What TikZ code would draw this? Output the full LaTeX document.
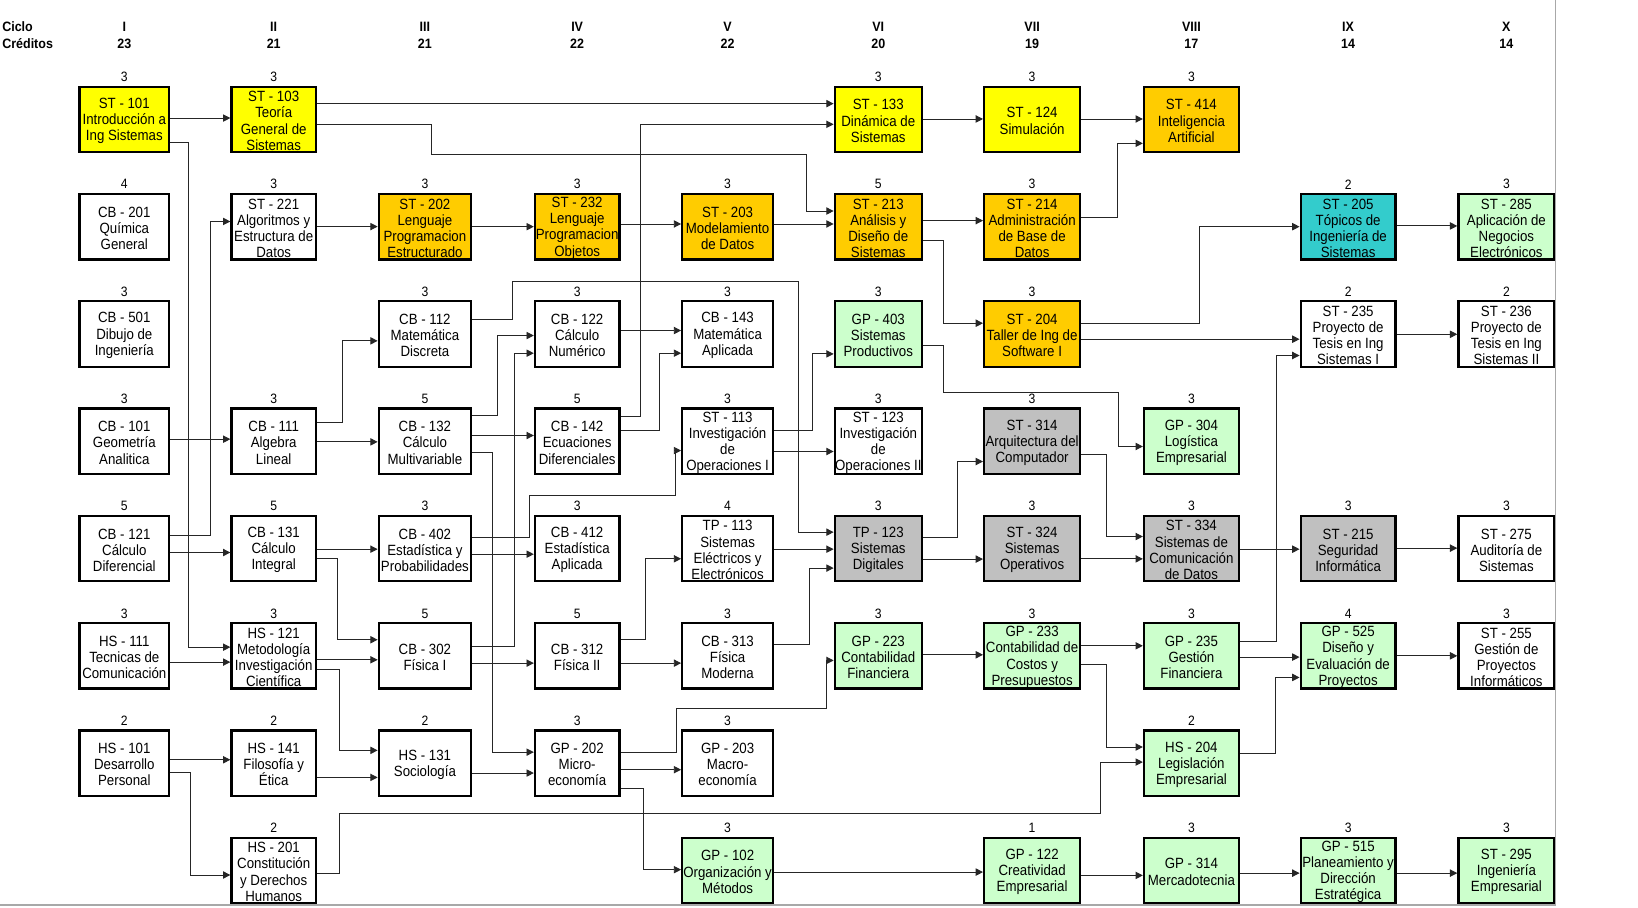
\documentclass[tikz,border=0pt]{standalone}
\usepackage{fontspec}
\setmainfont{Liberation Sans}[FakeStretch=0.895]
\newfontfamily\hdfont{Liberation Sans}[FakeStretch=0.92]
\usetikzlibrary{arrows.meta}
\definecolor{yel}{HTML}{FFFF00}
\definecolor{org}{HTML}{FFCC00}
\definecolor{grn}{HTML}{CCFFCC}
\definecolor{cyn}{HTML}{33CCCC}
\definecolor{gry}{HTML}{C0C0C0}
\definecolor{frame}{HTML}{A8A8A8}
\newcommand\crs[6]{%
 \pgfmathtruncatemacro\ci{#2-1}%
 \pgfmathsetmacro\cx{{119,262,406.75,552.5,696.5,840.75,988,1140.5,1290.5,1442}[\ci]}%
 \pgfmathsetmacro\cw{{88,83,90.5,83,89,85.5,94,93,93,94}[\ci]-2.2}%
 \pgfmathsetmacro\ct{82+102.7*(#3-1)}%
 \node[box,fill=#4,minimum width=\cw pt] (#1) at (\cx,\ct+32.3) {};%
 \node[btext] (#1t) at (\cx,\ct+33.8) {#6};%
 \node[cred] (#1c) at (\cx,\ct-8.3) {#5};%
}
\begin{document}
\begin{tikzpicture}[x=1pt,y=-1pt,
 box/.style={draw=black,line width=2.2pt,inner sep=0pt,minimum height=62.6pt},
 btext/.style={inner sep=0pt,align=center,font=\fontsize{14.2}{15.5}\selectfont},
 cred/.style={inner sep=0pt,font=\fontsize{13}{14}\selectfont},
 hd/.style={inner sep=0pt,font=\hdfont\bfseries\fontsize{13}{14}\selectfont},
 conn/.style={draw=black!85,line width=0.9pt,-{Triangle[length=7pt,width=7pt]}},
]
\useasboundingbox (0,0) rectangle (1568,869);
\fill[white] (0,0) rectangle (1568,869);
% frame lines
\draw[frame,line width=1.6pt] (1489,0) -- (1489,866) -- (0,866);
% headers
\node[hd,anchor=west] (hc) at (2,25.5) {Ciclo};
\node[hd,anchor=west] (hk) at (2,41.5) {Créditos};
\foreach \x/\r/\k [count=\i] in {119/I/23,262/II/21,406.75/III/21,552.5/IV/22,696.5/V/22,840.75/VI/20,988/VII/19,1140.5/VIII/17,1290.5/IX/14,1442/X/14}{
 \node[hd] (hr\i) at (\x,25.5) {\r};
 \node[hd] (hn\i) at (\x,41.5) {\k};
}
% row 1
\crs{st101}{1}{1}{yel}{3}{ST - 101\\Introducción a\\Ing Sistemas}
\crs{st103}{2}{1}{yel}{3}{ST - 103\\Teoría\\General de\\Sistemas}
\crs{st133}{6}{1}{yel}{3}{ST - 133\\Dinámica de\\Sistemas}
\crs{st124}{7}{1}{yel}{3}{ST - 124\\Simulación}
\crs{st414}{8}{1}{org}{3}{ST - 414\\Inteligencia\\Artificial}
% row 2
\crs{cb201}{1}{2}{white}{4}{CB - 201\\Química\\General}
\crs{st221}{2}{2}{white}{3}{ST - 221\\Algoritmos y\\Estructura de\\Datos}
\crs{st202}{3}{2}{org}{3}{ST - 202\\Lenguaje\\Programacion\\Estructurado}
\crs{st232}{4}{2}{org}{3}{ST - 232\\Lenguaje\\Programacion\\Objetos}
\crs{st203}{5}{2}{org}{3}{ST - 203\\Modelamiento\\de Datos}
\crs{st213}{6}{2}{org}{5}{ST - 213\\Análisis y\\Diseño de\\Sistemas}
\crs{st214}{7}{2}{org}{3}{ST - 214\\Administración\\de Base de\\Datos}
\crs{st205}{9}{2}{cyn}{2}{ST - 205\\Tópicos de\\Ingeniería de\\Sistemas}
\crs{st285}{10}{2}{grn}{3}{ST - 285\\Aplicación de\\Negocios\\Electrónicos}
% row 3
\crs{cb501}{1}{3}{white}{3}{CB - 501\\Dibujo de\\Ingeniería}
\crs{cb112}{3}{3}{white}{3}{CB - 112\\Matemática\\Discreta}
\crs{cb122}{4}{3}{white}{3}{CB - 122\\Cálculo\\Numérico}
\crs{cb143}{5}{3}{white}{3}{CB - 143\\Matemática\\Aplicada}
\crs{gp403}{6}{3}{grn}{3}{GP - 403\\Sistemas\\Productivos}
\crs{st204}{7}{3}{org}{3}{ST - 204\\Taller de Ing de\\Software I}
\crs{st235}{9}{3}{white}{2}{ST - 235\\Proyecto de\\Tesis en Ing\\Sistemas I}
\crs{st236}{10}{3}{white}{2}{ST - 236\\Proyecto de\\Tesis en Ing\\Sistemas II}
% row 4
\crs{cb101}{1}{4}{white}{3}{CB - 101\\Geometría\\Analitica}
\crs{cb111}{2}{4}{white}{3}{CB - 111\\Algebra\\Lineal}
\crs{cb132}{3}{4}{white}{5}{CB - 132\\Cálculo\\Multivariable}
\crs{cb142}{4}{4}{white}{5}{CB - 142\\Ecuaciones\\Diferenciales}
\crs{st113}{5}{4}{white}{3}{ST - 113\\Investigación\\de\\Operaciones I}
\crs{st123}{6}{4}{white}{3}{ST - 123\\Investigación\\de\\Operaciones II}
\crs{st314}{7}{4}{gry}{3}{ST - 314\\Arquitectura del\\Computador}
\crs{gp304}{8}{4}{grn}{3}{GP - 304\\Logística\\Empresarial}
% row 5
\crs{cb121}{1}{5}{white}{5}{CB - 121\\Cálculo\\Diferencial}
\crs{cb131}{2}{5}{white}{5}{CB - 131\\Cálculo\\Integral}
\crs{cb402}{3}{5}{white}{3}{CB - 402\\Estadística y\\Probabilidades}
\crs{cb412}{4}{5}{white}{3}{CB - 412\\Estadística\\Aplicada}
\crs{tp113}{5}{5}{white}{4}{TP - 113\\Sistemas\\Eléctricos y\\Electrónicos}
\crs{tp123}{6}{5}{gry}{3}{TP - 123\\Sistemas\\Digitales}
\crs{st324}{7}{5}{gry}{3}{ST - 324\\Sistemas\\Operativos}
\crs{st334}{8}{5}{gry}{3}{ST - 334\\Sistemas de\\Comunicación\\de Datos}
\crs{st215}{9}{5}{gry}{3}{ST - 215\\Seguridad\\Informática}
\crs{st275}{10}{5}{white}{3}{ST - 275\\Auditoría de\\Sistemas}
% row 6
\crs{hs111}{1}{6}{white}{3}{HS - 111\\Tecnicas de\\Comunicación}
\crs{hs121}{2}{6}{white}{3}{HS - 121\\Metodología\\Investigación\\Científica}
\crs{cb302}{3}{6}{white}{5}{CB - 302\\Física I}
\crs{cb312}{4}{6}{white}{5}{CB - 312\\Física II}
\crs{cb313}{5}{6}{white}{3}{CB - 313\\Física\\Moderna}
\crs{gp223}{6}{6}{grn}{3}{GP - 223\\Contabilidad\\Financiera}
\crs{gp233}{7}{6}{grn}{3}{GP - 233\\Contabilidad de\\Costos y\\Presupuestos}
\crs{gp235}{8}{6}{grn}{3}{GP - 235\\Gestión\\Financiera}
\crs{gp525}{9}{6}{grn}{4}{GP - 525\\Diseño y\\Evaluación de\\Proyectos}
\crs{st255}{10}{6}{white}{3}{ST - 255\\Gestión de\\Proyectos\\Informáticos}
% row 7
\crs{hs101}{1}{7}{white}{2}{HS - 101\\Desarrollo\\Personal}
\crs{hs141}{2}{7}{white}{2}{HS - 141\\Filosofía y\\Ética}
\crs{hs131}{3}{7}{white}{2}{HS - 131\\Sociología}
\crs{gp202}{4}{7}{white}{3}{GP - 202\\Micro-\\economía}
\crs{gp203}{5}{7}{white}{3}{GP - 203\\Macro-\\economía}
\crs{hs204}{8}{7}{grn}{2}{HS - 204\\Legislación\\Empresarial}
% row 8
\crs{hs201}{2}{8}{white}{2}{HS - 201\\Constitución\\y Derechos\\Humanos}
\crs{gp102}{5}{8}{grn}{3}{GP - 102\\Organización y\\Métodos}
\crs{gp122}{7}{8}{grn}{1}{GP - 122\\Creatividad\\Empresarial}
\crs{gp314}{8}{8}{grn}{3}{GP - 314\\Mercadotecnia}
\crs{gp515}{9}{8}{grn}{3}{GP - 515\\Planeamiento y\\Dirección\\Estratégica}
\crs{st295}{10}{8}{grn}{3}{ST - 295\\Ingeniería\\Empresarial}
% connectors
\draw[conn] (st101.east|-0,113) -- (st103.west|-0,113);
\draw[conn] (st101.east|-0,136) -| (180.5,619.5) -- (hs121.west|-0,619.5);
\draw[conn] (st103.east|-0,99.2) -- (st133.west|-0,99.2);
\draw[conn] (st103.east|-0,119) -| (413.5,147.7) -| (772.3,202) -- (st213.west|-0,202);
\draw[conn] (cb121.east|-0,512.6) -| (201.7,212) -- (st221.west|-0,212);
\draw[conn] (st221.east|-0,216.9) -- (st202.west|-0,216.9);
\draw[conn] (st202.east|-0,217) -- (st232.west|-0,217);
\draw[conn] (st232.east|-0,214.4) -- (st203.west|-0,214.4);
\draw[conn] (st203.east|-0,214.4) -- (st213.west|-0,214.4);
\draw[conn] (cb142.east|-0,398.7) -| (613.4,119) -- (st133.west|-0,119);
\draw[conn] (st133.east|-0,113.9) -- (st124.west|-0,113.9);
\draw[conn] (st213.east|-0,211.2) -- (st214.west|-0,211.2);
\draw[conn] (st213.east|-0,230.6) -| (903,309.4) -- (st204.west|-0,309.4);
\draw[conn] (cb112.east|-0,305.6) -| (490.6,269.5) -| (764.5,509.4) -- (tp123.west|-0,509.4);
\draw[conn] (st124.east|-0,113.9) -- (st414.west|-0,113.9);
\draw[conn] (st214.east|-0,208.3) -| (1070,137.2) -- (st414.west|-0,137.2);
\draw[conn] (st204.east|-0,309.4) -| (1148,217) -- (st205.west|-0,217);
\draw[conn] (st204.east|-0,324.7) -- (st235.west|-0,324.7);
\draw[conn] (st205.east|-0,216.3) -- (st285.west|-0,216.3);
\draw[conn] (gp235.east|-0,614) -| (1222,340.3) -- (st235.west|-0,340.3);
\draw[conn] (st235.east|-0,320) -- (st236.west|-0,320);
\draw[conn] (gp403.east|-0,330.8) -| (903,375.4) -| (1071,427.4) -- (gp304.west|-0,427.4);
\draw[conn] (st314.east|-0,434.7) -| (1059,513.6) -- (st334.west|-0,513.6);
\draw[conn] (st324.east|-0,535) -- (st334.west|-0,535);
\draw[conn] (st334.east|-0,525.7) -- (st215.west|-0,525.7);
\draw[conn] (st215.east|-0,524.7) -- (st275.west|-0,524.7);
\draw[conn] (cb101.east|-0,420.4) -- (cb111.west|-0,420.4);
\draw[conn] (cb111.east|-0,404.2) -| (327.4,326.3) -- (cb112.west|-0,326.3);
\draw[conn] (cb111.east|-0,423) -- (cb132.west|-0,423);
\draw[conn] (cb121.east|-0,528.9) -- (cb131.west|-0,528.9);
\draw[conn] (cb131.east|-0,525.7) -- (cb402.west|-0,525.7);
\draw[conn] (cb131.east|-0,534.3) -| (323,612.4) -- (cb302.west|-0,612.4);
\draw[conn] (cb132.east|-0,398) -| (476.2,321.2) -- (cb122.west|-0,321.2);
\draw[conn] (cb132.east|-0,416.9) -- (cb142.west|-0,416.9);
\draw[conn] (cb132.east|-0,432.8) -| (471.1,720) -- (gp202.west|-0,720);
\draw[conn] (cb302.east|-0,618.5) -| (492.5,338.1) -- (cb122.west|-0,338.1);
\draw[conn] (cb402.east|-0,514.5) -| (506.5,474.3) -| (646.6,431.3) -- (st113.west|-0,431.3);
\draw[conn] (cb402.east|-0,530.5) -- (cb412.west|-0,530.5);
\draw[conn] (cb122.east|-0,316.4) -- (cb143.west|-0,316.4);
\draw[conn] (cb142.east|-0,412.4) -| (631,338.1) -- (cb143.west|-0,338.1);
\draw[conn] (cb302.east|-0,634.8) -- (cb312.west|-0,634.8);
\draw[conn] (cb312.east|-0,612.4) -| (618.2,534.9) -- (tp113.west|-0,534.9);
\draw[conn] (cb312.east|-0,634.8) -- (cb313.west|-0,634.8);
\draw[conn] (hs131.east|-0,740) -- (gp202.west|-0,740);
\draw[conn] (gp202.east|-0,720) -| (647.5,678.6) -| (791,632.2) -- (gp223.west|-0,632.2);
\draw[conn] (gp202.east|-0,736.8) -- (gp203.west|-0,736.8);
\draw[conn] (gp202.east|-0,754.4) -| (616,832.5) -- (gp102.west|-0,832.5);
\draw[conn] (hs201.east|-0,835.7) -| (324.7,778.3) -| (1053.3,729.5) -- (hs204.west|-0,729.5);
\draw[conn] (hs111.east|-0,633.8) -- (hs121.west|-0,633.8);
\draw[conn] (hs121.east|-0,631.6) -- (cb302.west|-0,631.6);
\draw[conn] (hs121.east|-0,641.1) -| (324.7,718.3) -- (hs131.west|-0,718.3);
\draw[conn] (hs101.east|-0,727.3) -- (hs141.west|-0,727.3);
\draw[conn] (hs141.east|-0,744.2) -- (hs131.west|-0,744.2);
\draw[conn] (hs101.east|-0,739.4) -| (182.8,837.6) -- (hs201.west|-0,837.6);
\draw[conn] (st113.east|-0,412.1) -| (777.5,338.8) -- (gp403.west|-0,338.8);
\draw[conn] (st113.east|-0,432.2) -- (st123.west|-0,432.2);
\draw[conn] (tp113.east|-0,525.7) -- (tp123.west|-0,525.7);
\draw[conn] (cb313.east|-0,617.2) -| (774.8,543.8) -- (tp123.west|-0,543.8);
\draw[conn] (tp123.east|-0,514.2) -| (916.6,441.8) -- (st314.west|-0,441.8);
\draw[conn] (tp123.east|-0,535.2) -- (st324.west|-0,535.2);
\draw[conn] (gp223.east|-0,626.8) -- (gp233.west|-0,626.8);
\draw[conn] (gp102.east|-0,834.8) -- (gp122.west|-0,834.8);
\draw[conn] (gp233.east|-0,618.2) -- (gp235.west|-0,618.2);
\draw[conn] (gp233.east|-0,636.4) -| (1059.1,715.1) -- (hs204.west|-0,715.1);
\draw[conn] (gp235.east|-0,629) -- (gp525.west|-0,629);
\draw[conn] (hs204.east|-0,720.9) -| (1220.8,648.5) -- (gp525.west|-0,648.5);
\draw[conn] (gp525.east|-0,627.8) -- (st255.west|-0,627.8);
\draw[conn] (gp122.east|-0,838) -- (gp314.west|-0,838);
\draw[conn] (gp314.east|-0,835.8) -- (gp515.west|-0,835.8);
\draw[conn] (gp515.east|-0,835.8) -- (st295.west|-0,835.8);
\end{tikzpicture}
\end{document}
